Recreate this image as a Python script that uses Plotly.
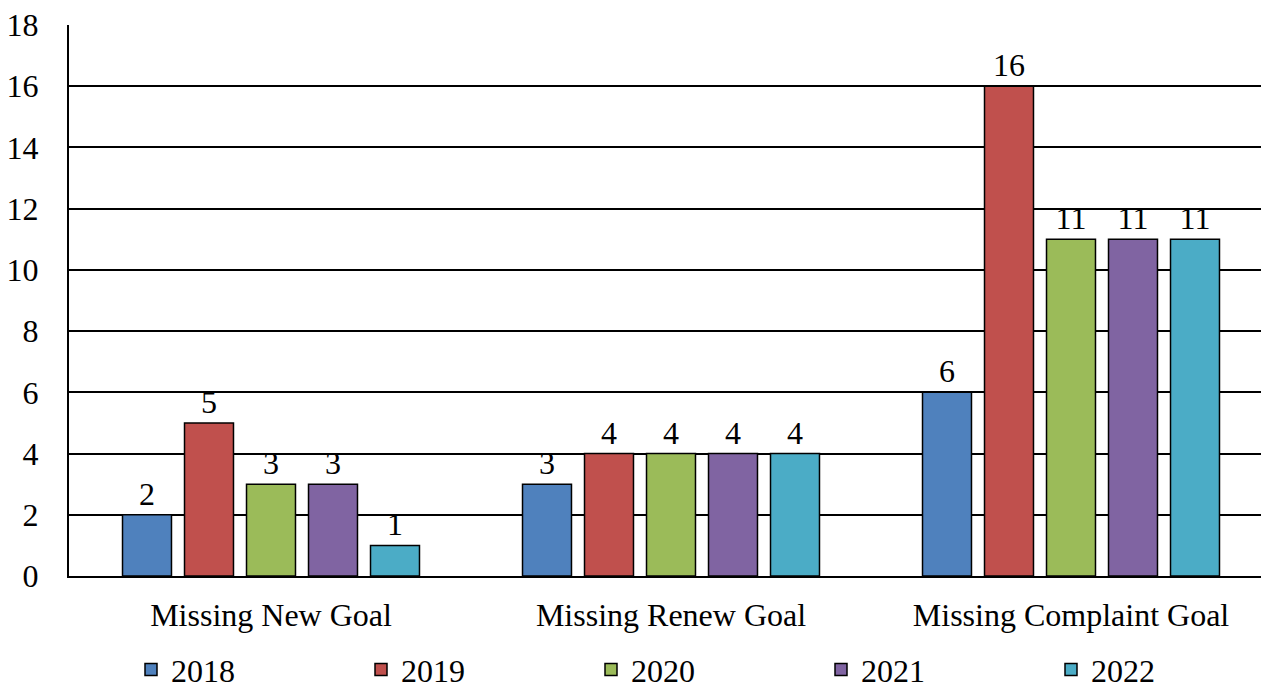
import plotly.graph_objects as go

categories = ["Missing New Goal", "Missing Renew Goal", "Missing Complaint Goal"]
series_names = ["2018", "2019", "2020", "2021", "2022"]
values_2018 = [2, 3, 6]
values_2019 = [5, 4, 16]
values_2020 = [3, 4, 11]
values_2021 = [3, 4, 11]
values_2022 = [1, 4, 11]
colors = ["#4F81BD", "#C0504D", "#9BBB59", "#8064A2", "#4BACC6"]
y_ticks = [0, 2, 4, 6, 8, 10, 12, 14, 16, 18]

all_values = [values_2018, values_2019, values_2020, values_2021, values_2022]
FONT = "Liberation Serif"

fig = go.Figure()
for i, (name, vals, col) in enumerate(zip(series_names, all_values, colors)):
    fig.add_trace(go.Bar(
        x=categories, y=vals, name=name,
        marker=dict(color=col, line=dict(color="#000000", width=1.5)),
        text=[str(v) for v in vals], textposition="outside",
        textfont=dict(family=FONT, size=32, color="#000000"),
        cliponaxis=False,
        legendwidth=185 if i < 4 else 70,
    ))

fig.update_layout(
    width=1261, height=689,
    margin=dict(l=69, r=0, t=25, b=113, autoexpand=False),
    paper_bgcolor="white", plot_bgcolor="white",
    barmode="group", bargap=0.225, bargroupgap=0.21,
    font=dict(family=FONT, size=32, color="#000000"),
    showlegend=True,
    legend=dict(orientation="h", x=(131 - 69) / 1192, xref="paper", xanchor="left",
                yref="container", y=0.028, yanchor="middle",
                bgcolor="rgba(0,0,0,0)",
                font=dict(family="serif", size=32, color="#000000"),
                itemclick=False, traceorder="normal"),
    xaxis=dict(range=[-0.505, 2.475], showgrid=False, showline=True, linecolor="#000000",
               linewidth=2, ticks="", ticklabelstandoff=10, automargin=False,
               tickfont=dict(family=FONT, size=32, color="#000000")),
    yaxis=dict(range=[0, 18], tickvals=y_ticks, showgrid=True, gridcolor="#000000",
               gridwidth=2, showline=True, linecolor="#000000", linewidth=2,
               ticks="", ticklabelstandoff=22, zeroline=False, automargin=False,
               tickfont=dict(family=FONT, size=32, color="#000000")),
)

fig.write_html("out.html")
